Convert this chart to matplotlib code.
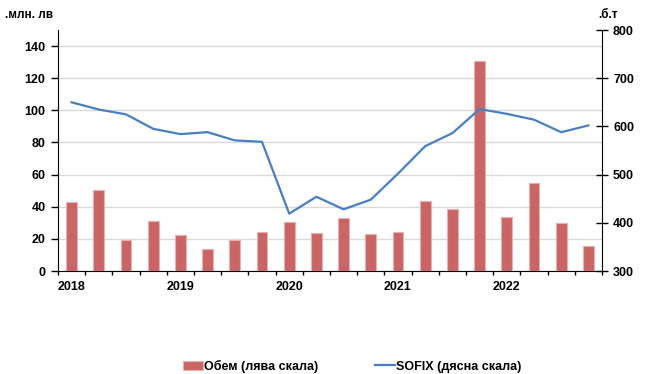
import numpy as np
import matplotlib.pyplot as plt

plt.rcParams['font.family'] = ['Liberation Sans', 'DejaVu Sans']
plt.rcParams['font.weight'] = 'bold'

# тримесечия 2018 Q1 - 2022 Q4
years = ['2018', '2019', '2020', '2021', '2022']
volume = [43, 50.4, 19.3, 30.9, 22.6, 13.5, 19.3, 24.5, 30.3, 23.8,
          33.2, 22.8, 24.5, 43.8, 38.6, 130.5, 33.4, 54.8, 30.1, 15.6]
sofix = [650, 635, 625, 595, 584, 588, 571, 568, 419, 454,
         428, 448, 502, 559, 586, 636, 626, 614, 588, 602]

n = len(volume)
x = np.arange(n)

fig = plt.figure(figsize=(6.46, 3.74), dpi=100)
ax = fig.add_axes([58/646, 1 - 271/374, 544/646, 241/374])
ax2 = ax.twinx()

ax.bar(x, volume, width=0.4, color='#c96565', edgecolor='#eab0b0', linewidth=0.8,
       label='Обем (лява скала)', zorder=3)
ax2.plot(x, sofix, color='#4a7ec2', linewidth=1.6, label='SOFIX (дясна скала)')

ax.set_xlim(-0.5, n - 0.5)
ax.set_ylim(0, 150)
ax.set_yticks(np.arange(0, 141, 20))
ax2.set_ylim(300, 800)
ax2.set_yticks(np.arange(300, 801, 100))

ax.yaxis.grid(True, color='#d9d9d9', linewidth=1)
ax.set_axisbelow(True)

# тикове по границите на тримесечията, етикети под Q1
ax.set_xticks(np.arange(-0.5, n, 1))
ax.set_xticklabels([])
ax.set_xticks(np.arange(0, n, 4), minor=True)
ax.set_xticklabels(years, minor=True)
ax.tick_params(axis='x', which='major', direction='out', length=3, width=1)
ax.tick_params(axis='x', which='minor', length=0, pad=7, labelsize=9)
ax.tick_params(axis='y', direction='out', length=5, width=1, labelsize=9, pad=4)
ax2.tick_params(axis='y', direction='inout', length=8, width=1, labelsize=9, pad=4)

for a in (ax, ax2):
    a.spines['top'].set_visible(False)
ax.spines['right'].set_visible(False)
ax2.spines['left'].set_visible(False)
ax2.spines['bottom'].set_visible(False)

fig.text(5/646, 1 - 15/374, '.млн. лв', fontsize=8.5, fontweight='bold', va='center')
fig.text(598/646, 1 - 15/374, '.б.т', fontsize=8.5, fontweight='bold', va='center')

h1, l1 = ax.get_legend_handles_labels()
h2, l2 = ax2.get_legend_handles_labels()
fig.legend(h1 + h2, l1 + l2, loc='center', bbox_to_anchor=(0.545, 1 - 366/374),
           ncol=2, frameon=False, fontsize=9, columnspacing=4.5,
           handlelength=1.6, handletextpad=0.1)

plt.savefig('out.png', dpi=100)
